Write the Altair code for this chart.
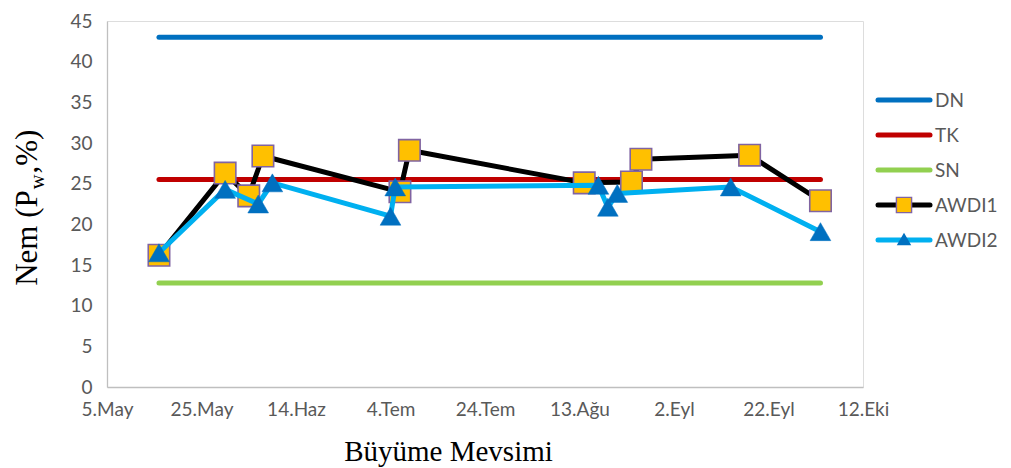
import altair as alt
import pandas as pd

# ---------------- data ----------------
awdi1_dates = ["2023/05/16", "2023/05/30", "2023/06/04", "2023/06/07", "2023/07/06", "2023/07/08",
               "2023/08/14", "2023/08/24", "2023/08/26", "2023/09/18", "2023/10/03"]
awdi1_values = [16.2, 26.3, 23.5, 28.4, 24.0, 29.1, 25.1, 25.2, 28.0, 28.5, 22.9]

awdi2_dates = ["2023/05/16", "2023/05/30", "2023/06/06", "2023/06/09", "2023/07/04", "2023/07/05",
               "2023/08/17", "2023/08/19", "2023/08/21", "2023/09/14", "2023/10/03"]
awdi2_values = [16.5, 24.3, 22.5, 25.1, 21.0, 24.6, 24.8, 22.1, 23.8, 24.6, 19.1]

ref_names = ["DN", "TK", "SN"]
ref_values = [43.0, 25.5, 12.8]
ref_start = "2023/05/16"
ref_end = "2023/10/03"

tick_dates = [(2023, 5, 5), (2023, 5, 25), (2023, 6, 14), (2023, 7, 4), (2023, 7, 24),
              (2023, 8, 13), (2023, 9, 2), (2023, 9, 22), (2023, 10, 12)]
tick_labels = ["5.May", "25.May", "14.Haz", "4.Tem", "24.Tem", "13.Ağu", "2.Eyl", "22.Eyl", "12.Eki"]
y_ticks = [0, 5, 10, 15, 20, 25, 30, 35, 40, 45]

series_names = ["DN", "TK", "SN", "AWDI1", "AWDI2"]
series_colors = ["#0070C0", "#C00000", "#92D050", "#000000", "#00B0F0"]

# ---------------- styling ----------------
W, H = 756, 366
LABEL_FONT = "Lato"
GRAY = "#595959"
AXIS_GRAY = "#BFBFBF"
SERIF = "Liberation Serif"

# ---------------- tables ----------------
df1 = pd.DataFrame({"date": awdi1_dates, "value": awdi1_values, "series": "AWDI1"})
df2 = pd.DataFrame({"date": awdi2_dates, "value": awdi2_values, "series": "AWDI2"})
ref_df = pd.DataFrame({"series": ref_names, "value": ref_values,
                       "start": [ref_start] * len(ref_names), "end": [ref_end] * len(ref_names)})

def dt(t):
    return alt.DateTime(year=t[0], month=t[1], date=t[2])

keys = [(m - 1) * 100 + d for (_, m, d) in tick_dates]
label_expr = (
    "[" + ",".join("'" + s + "'" for s in tick_labels) + "]"
    + "[indexof([" + ",".join(str(k) for k in keys) + "], month(datum.value)*100+date(datum.value))]"
)

x_scale = alt.Scale(domain=[dt(tick_dates[0]), dt(tick_dates[-1])])
y_scale = alt.Scale(domain=[0, 45], nice=False)
color_scale = alt.Scale(domain=series_names, range=series_colors)

x_axis = alt.Axis(
    values=[dt(t) for t in tick_dates], labelExpr=label_expr, grid=False, ticks=False,
    domainColor=AXIS_GRAY, domainWidth=1.3, labelFont=LABEL_FONT, labelFontSize=19,
    labelColor=GRAY, labelPadding=13, labelFlush=False, labelOverlap=False,
    title="Büyüme Mevsimi", titleFont=SERIF, titleFontSize=29, titleFontWeight="normal",
    titleColor="black", titleX=341, titleY=73, titleBaseline="alphabetic", titleAlign="center",
    titleAnchor="start",
)
y_axis = alt.Axis(
    values=y_ticks, grid=False, ticks=False, domainColor=AXIS_GRAY, domainWidth=1.3,
    labelFont=LABEL_FONT, labelFontSize=19, labelColor=GRAY, labelPadding=15, title=None,
)

X = alt.X("date:T", scale=x_scale, axis=x_axis)
Y = alt.Y("value:Q", scale=y_scale, axis=y_axis)

refs = alt.Chart(ref_df).mark_rule(strokeWidth=5, strokeCap="round").encode(
    x=alt.X("start:T", scale=x_scale, axis=x_axis),
    x2="end:T",
    y=Y,
    color=alt.Color("series:N", scale=color_scale, legend=None),
)

line1 = alt.Chart(df1).mark_line(strokeWidth=5, color="#000000", strokeJoin="round").encode(x=X, y=Y)
pts1 = alt.Chart(df1).mark_point(shape="square", filled=True, size=460, fill="#FFC000",
                                 stroke="#8064A2", strokeWidth=1.6, opacity=1).encode(x=X, y=Y)
line2 = alt.Chart(df2).mark_line(strokeWidth=5, color="#00B0F0", strokeJoin="round").encode(x=X, y=Y)
pts2 = alt.Chart(df2).mark_point(shape="triangle-up", filled=True, size=430, fill="#0070C0",
                                 stroke="#0070C0", strokeWidth=0.5, opacity=1).encode(x=X, y=Y)

# ---------------- manual legend (outside the plot, right) ----------------
legend_layers = []
row_y0, row_step = 79, 35
for i, (name, col) in enumerate(zip(series_names, series_colors)):
    yy = row_y0 + i * row_step
    base = alt.Chart(pd.DataFrame({"series": [name]}))
    legend_layers.append(base.mark_rule(strokeWidth=5, strokeCap="round", color=col).encode(
        x=alt.value(771), x2=alt.value(823), y=alt.value(yy)))
    if name == "AWDI1":
        legend_layers.append(base.mark_point(shape="square", filled=True, size=230, fill="#FFC000",
                                             stroke="#8064A2", strokeWidth=1.4, opacity=1).encode(
            x=alt.value(797), y=alt.value(yy)))
    if name == "AWDI2":
        legend_layers.append(base.mark_point(shape="triangle-up", filled=True, size=210, fill="#0070C0",
                                             opacity=1).encode(x=alt.value(797), y=alt.value(yy - 1)))
    legend_layers.append(base.mark_text(align="left", baseline="middle", font=LABEL_FONT,
                                        fontSize=19, color=GRAY).encode(
        x=alt.value(828), y=alt.value(yy + 1), text="series:N"))

# ---------------- y-axis title with subscript ----------------
F = 31
seg1, seg_sub, seg3 = "Nem (P", "w", ",%)"
w1 = 3.083 * F * 1.05
wsub = 0.722 * F * 0.66
w3 = (0.25 + 0.833 + 0.333) * F * 1.05
center_y = 189
bottom = center_y + (w1 + wsub + w3) / 2
p_top = bottom - w1
tbase = alt.Chart(pd.DataFrame({"t": [seg1]}))
ytitle = [
    tbase.mark_text(angle=270, align="right", baseline="alphabetic", font=SERIF, fontSize=F,
                    color="black").encode(x=alt.value(-70), y=alt.value(p_top), text=alt.value(seg1)),
    tbase.mark_text(angle=270, align="left", baseline="alphabetic", font=SERIF, fontSize=F * 0.66,
                    color="black").encode(x=alt.value(-63), y=alt.value(p_top - 1), text=alt.value(seg_sub)),
    tbase.mark_text(angle=270, align="left", baseline="alphabetic", font=SERIF, fontSize=F,
                    color="black").encode(x=alt.value(-70), y=alt.value(p_top - wsub - 2), text=alt.value(seg3)),
]

chart = alt.layer(refs, line1, pts1, line2, pts2, *legend_layers, *ytitle).properties(
    width=W, height=H,
    autosize=alt.AutoSizeParams(type="none"),
    padding={"left": 99, "top": 13, "right": 140, "bottom": 81},
).configure_view(stroke=None).configure(background="white")

chart.save("out.html", embed_options={"renderer": "svg", "actions": False})
